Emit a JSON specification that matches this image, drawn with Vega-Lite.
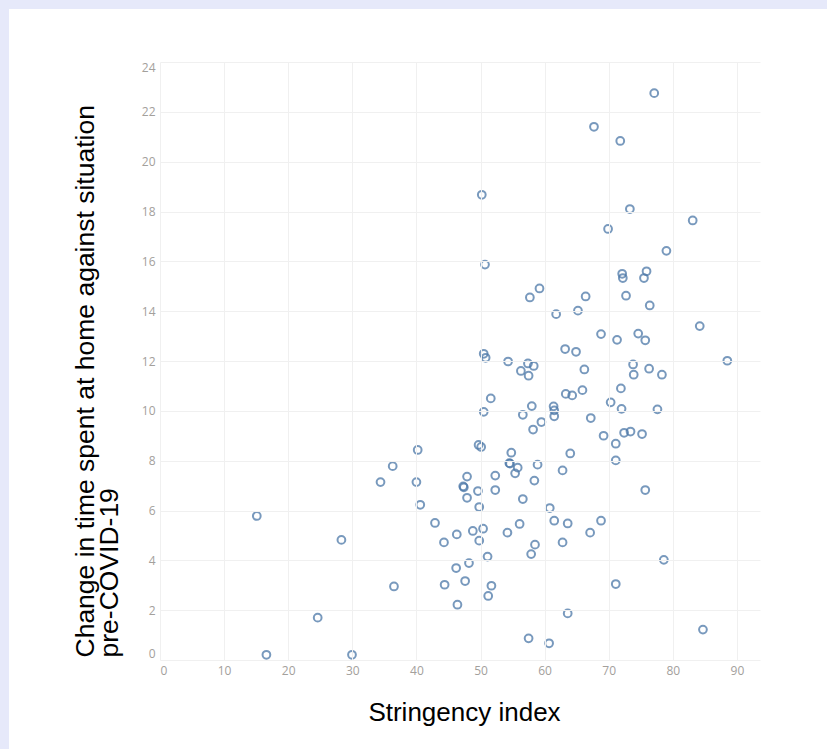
{
  "$schema": "https://vega.github.io/schema/vega-lite/v6.json",
  "autosize": "none",
  "width": 600,
  "height": 598,
  "padding": {"left": 160, "top": 62, "right": 67, "bottom": 89},
  "background": "#e6e9fa",
  "config": {"view": {"stroke": null}},
  "datasets": {
    "pts": [
      {"s": 77.1, "c": 22.75}, {"s": 67.7, "c": 21.4}, {"s": 71.8, "c": 20.83}, {"s": 50.2, "c": 18.67},
      {"s": 73.3, "c": 18.1}, {"s": 83.1, "c": 17.64}, {"s": 69.9, "c": 17.3}, {"s": 79.0, "c": 16.42},
      {"s": 50.7, "c": 15.87}, {"s": 72.1, "c": 15.5}, {"s": 72.2, "c": 15.33}, {"s": 75.9, "c": 15.6},
      {"s": 75.5, "c": 15.33}, {"s": 59.2, "c": 14.91}, {"s": 57.7, "c": 14.55}, {"s": 66.4, "c": 14.59},
      {"s": 72.7, "c": 14.62}, {"s": 76.4, "c": 14.23}, {"s": 61.8, "c": 13.88}, {"s": 65.2, "c": 14.02},
      {"s": 84.2, "c": 13.4}, {"s": 68.8, "c": 13.08}, {"s": 74.6, "c": 13.1}, {"s": 71.3, "c": 12.85},
      {"s": 75.7, "c": 12.83}, {"s": 63.2, "c": 12.48}, {"s": 64.9, "c": 12.37}, {"s": 50.5, "c": 12.29},
      {"s": 50.8, "c": 12.13}, {"s": 54.3, "c": 11.98}, {"s": 88.5, "c": 12.01}, {"s": 57.4, "c": 11.9},
      {"s": 58.3, "c": 11.8}, {"s": 56.3, "c": 11.6}, {"s": 57.5, "c": 11.41}, {"s": 66.2, "c": 11.66},
      {"s": 73.8, "c": 11.86}, {"s": 73.9, "c": 11.45}, {"s": 76.3, "c": 11.69}, {"s": 78.3, "c": 11.45},
      {"s": 63.3, "c": 10.68}, {"s": 64.3, "c": 10.62}, {"s": 65.9, "c": 10.83}, {"s": 71.9, "c": 10.9},
      {"s": 51.6, "c": 10.5}, {"s": 70.3, "c": 10.34}, {"s": 72.0, "c": 10.08}, {"s": 77.6, "c": 10.06},
      {"s": 61.4, "c": 10.18}, {"s": 61.5, "c": 10.02}, {"s": 61.5, "c": 9.78}, {"s": 50.5, "c": 9.96},
      {"s": 56.6, "c": 9.84}, {"s": 58.0, "c": 10.19}, {"s": 58.2, "c": 9.25}, {"s": 59.5, "c": 9.55},
      {"s": 67.2, "c": 9.71}, {"s": 69.2, "c": 9.0}, {"s": 71.1, "c": 8.68}, {"s": 72.4, "c": 9.12},
      {"s": 73.4, "c": 9.17}, {"s": 75.2, "c": 9.07}, {"s": 71.1, "c": 8.01}, {"s": 64.0, "c": 8.29},
      {"s": 62.8, "c": 7.61}, {"s": 75.7, "c": 6.82}, {"s": 60.8, "c": 6.1}, {"s": 61.5, "c": 5.59},
      {"s": 63.6, "c": 5.48}, {"s": 68.8, "c": 5.59}, {"s": 67.1, "c": 5.11}, {"s": 62.8, "c": 4.72},
      {"s": 78.6, "c": 4.02}, {"s": 71.1, "c": 3.05}, {"s": 63.6, "c": 1.87}, {"s": 84.7, "c": 1.22},
      {"s": 60.7, "c": 0.67}, {"s": 57.5, "c": 0.87}, {"s": 15.1, "c": 5.78}, {"s": 28.3, "c": 4.82},
      {"s": 36.5, "c": 2.95}, {"s": 24.6, "c": 1.7}, {"s": 16.6, "c": 0.21}, {"s": 29.95, "c": 0.21},
      {"s": 40.2, "c": 8.43}, {"s": 36.3, "c": 7.78}, {"s": 34.4, "c": 7.14}, {"s": 40.0, "c": 7.14},
      {"s": 40.6, "c": 6.23}, {"s": 42.9, "c": 5.5}, {"s": 44.3, "c": 4.72}, {"s": 46.3, "c": 5.04},
      {"s": 48.8, "c": 5.18}, {"s": 50.4, "c": 5.27}, {"s": 49.8, "c": 4.79}, {"s": 54.2, "c": 5.11},
      {"s": 56.1, "c": 5.46}, {"s": 58.5, "c": 4.63}, {"s": 57.9, "c": 4.25}, {"s": 51.1, "c": 4.15},
      {"s": 48.2, "c": 3.89}, {"s": 46.2, "c": 3.69}, {"s": 44.4, "c": 3.02}, {"s": 47.6, "c": 3.17},
      {"s": 51.7, "c": 2.98}, {"s": 51.2, "c": 2.57}, {"s": 46.4, "c": 2.22}, {"s": 49.7, "c": 8.63},
      {"s": 50.1, "c": 8.55}, {"s": 54.8, "c": 8.32}, {"s": 54.5, "c": 7.9}, {"s": 54.6, "c": 7.88},
      {"s": 55.8, "c": 7.72}, {"s": 55.4, "c": 7.49}, {"s": 58.9, "c": 7.84}, {"s": 58.4, "c": 7.2},
      {"s": 47.9, "c": 7.36}, {"s": 52.3, "c": 7.4}, {"s": 47.3, "c": 6.97}, {"s": 47.4, "c": 6.93},
      {"s": 49.6, "c": 6.78}, {"s": 52.3, "c": 6.82}, {"s": 47.9, "c": 6.51}, {"s": 56.6, "c": 6.46},
      {"s": 49.8, "c": 6.14}
    ]
  },
  "layer": [
    {
      "data": {"values": [{"panel": "white"}]},
      "mark": {"type": "rect", "fill": "white", "clip": false},
      "encoding": {
        "x": {"datum": -23.55, "type": "quantitative", "scale": {"domain": [0, 93.6], "nice": false}},
        "x2": {"datum": 140},
        "y": {"datum": 26.13, "type": "quantitative", "scale": {"domain": [0, 24], "nice": false}},
        "y2": {"datum": -12}
      }
    },
    {
      "data": {"name": "pts"},
      "mark": {"type": "point", "filled": false, "size": 60, "strokeWidth": 2, "color": "#4c78a8", "opacity": 0.75},
      "encoding": {
        "x": {
          "field": "s", "type": "quantitative",
          "scale": {"domain": [0, 93.6], "nice": false},
          "axis": {
            "title": "Stringency index",
            "values": [0, 10, 20, 30, 40, 50, 60, 70, 80, 90],
            "domain": false, "ticks": false, "grid": true, "gridColor": "#f0f0f0", "zindex": 1,
            "labelFont": "Open Sans", "labelFontSize": 12, "labelColor": "#a3a09c", "labelPadding": 5,
            "labelFlush": true,
            "titleFont": "Liberation Sans", "titleFontSize": 26, "titleFontWeight": "normal", "titleColor": "#000000",
            "titleX": 304, "titleY": 60, "titleBaseline": "alphabetic", "titleAlign": "center"
          }
        },
        "y": {
          "field": "c", "type": "quantitative",
          "scale": {"domain": [0, 24], "nice": false},
          "axis": {
            "title": ["Change in time spent at home against situation", "pre-COVID-19"],
            "values": [0, 2, 4, 6, 8, 10, 12, 14, 16, 18, 20, 22, 24],
            "domain": false, "ticks": false, "grid": true, "gridColor": "#f0f0f0", "zindex": 1,
            "labelFont": "Open Sans", "labelFontSize": 12, "labelColor": "#a3a09c", "labelPadding": 5,
            "labelFlush": true,
            "titleFont": "Liberation Sans", "titleFontSize": 26.5, "titleFontWeight": "normal", "titleColor": "#000000",
            "titleAngle": 270, "titleAlign": "left", "titleBaseline": "alphabetic", "titleLineHeight": 24,
            "titleX": -67, "titleY": 595
          }
        }
      }
    }
  ]
}
